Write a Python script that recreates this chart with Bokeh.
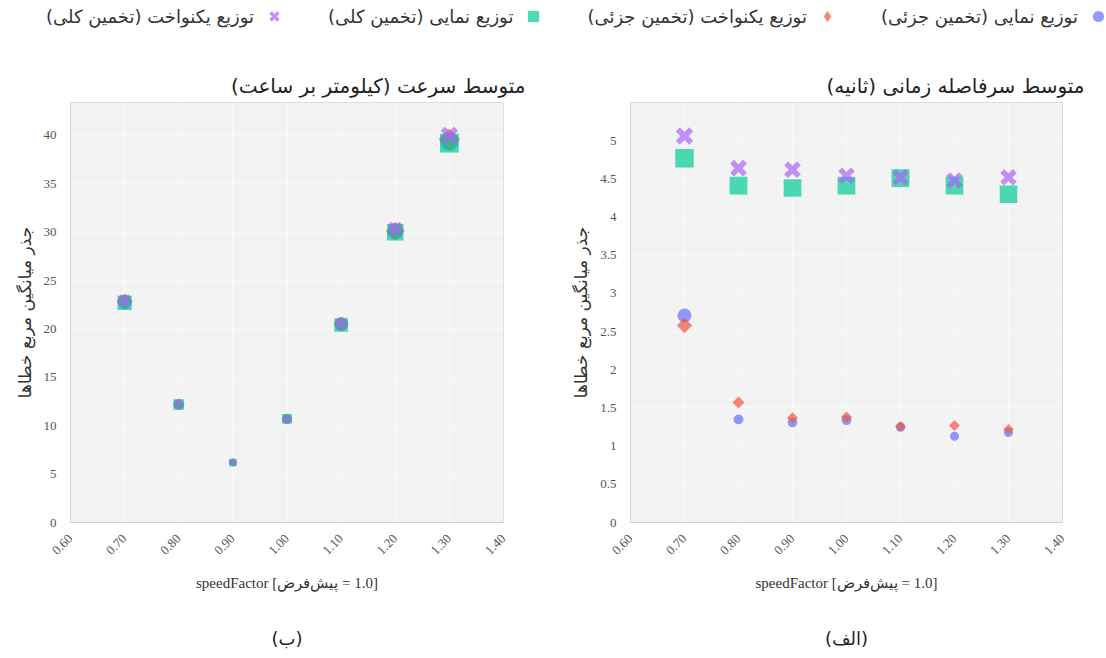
import math
from bokeh.plotting import figure
from bokeh.layouts import column, row
from bokeh.models import (ColumnDataSource, Range1d, FixedTicker, NumeralTickFormatter,
                          Title, Legend, LegendItem)
from bokeh.embed import file_html
from bokeh.resources import INLINE

# ---------------- data ----------------
speed_factor = [0.7, 0.8, 0.9, 1.0, 1.1, 1.2, 1.3]
x_ticks = [0.6, 0.7, 0.8, 0.9, 1.0, 1.1, 1.2, 1.3, 1.4]
headway_y_ticks = [0, 0.5, 1, 1.5, 2, 2.5, 3, 3.5, 4, 4.5, 5]
speed_y_ticks = [0, 5, 10, 15, 20, 25, 30, 35, 40]

series_labels = [
    "توزیع نمایی (تخمین جزئی)",
    "توزیع یکنواخت (تخمین جزئی)",
    "توزیع نمایی (تخمین کلی)",
    "توزیع یکنواخت (تخمین کلی)",
]

# (الف) average headway RMSE
headway_exp_partial = [2.71, 1.35, 1.31, 1.34, 1.25, 1.13, 1.18]
headway_uni_partial = [2.58, 1.57, 1.37, 1.38, 1.26, 1.27, 1.22]
headway_exp_total = [4.77, 4.41, 4.38, 4.41, 4.51, 4.41, 4.30]
headway_uni_total = [5.06, 4.64, 4.62, 4.54, 4.52, 4.48, 4.52]

# (ب) average speed RMSE
speed_exp_partial = [22.8, 12.2, 6.2, 10.7, 20.5, 30.1, 39.4]
speed_uni_partial = [22.8, 12.2, 6.2, 10.7, 20.5, 30.1, 39.6]
speed_exp_total = [22.7, 12.2, 6.2, 10.7, 20.4, 30.0, 39.2]
speed_uni_total = [22.9, 12.2, 6.2, 10.7, 20.5, 30.3, 40.0]

# ---------------- styles ----------------
COLORS = ["#636EFA", "#EF553B", "#00CC96", "#AB63FA"]
MARKERS = ["circle", "diamond", "square", "x"]
MAX_SIZE = 19
ALPHA = 0.7
PERSIAN_FONT = "DejaVu Sans"
NUM_FONT = "Liberation Serif"


def draw_marker(p, src, k, size, lw, legend_glyph=False):
    m = MARKERS[k]
    if m == "x":
        return p.scatter("x", "y", source=src, marker="x", size=size, line_width=lw,
                         line_color=COLORS[k], line_alpha=ALPHA)
    if m == "diamond":
        if legend_glyph:
            return p.scatter("x", "y", source=src, marker="diamond", size=size,
                             fill_color=COLORS[k], fill_alpha=ALPHA, line_color=None)
        return p.scatter("x", "y", source=src, marker="square", angle=math.pi / 4,
                         size=size, fill_color=COLORS[k], fill_alpha=ALPHA, line_color=None)
    return p.scatter("x", "y", source=src, marker=m, size=size,
                     fill_color=COLORS[k], fill_alpha=ALPHA, line_color=None)


def add_series(p, ys, k, vmax):
    sizes = [MAX_SIZE * math.sqrt(v / vmax) for v in ys]
    if MARKERS[k] == "diamond":
        sizes = [s * 0.8 for s in sizes]
    lws = [s * 0.3 for s in sizes]
    src = ColumnDataSource(dict(x=speed_factor, y=ys, s=sizes, lw=lws))
    draw_marker(p, src, k, "s", "lw")


def make_panel(title, caption, series, y_end, y_ticks, frame_w, b_left, b_right):
    p = figure(frame_width=frame_w, frame_height=420,
               x_range=Range1d(0.6, 1.4), y_range=Range1d(0, y_end),
               output_backend="svg", toolbar_location=None,
               min_border_left=b_left, min_border_right=b_right,
               min_border_top=70, min_border_bottom=134,
               background_fill_color="#f3f3f3", border_fill_color="white",
               outline_line_color="#dcdcdc", title=title)
    p.title.align = "right"
    p.title.offset = -22
    p.title.text_font = PERSIAN_FONT
    p.title.text_font_size = "20px"
    p.title.text_font_style = "normal"
    p.title.text_color = "#222222"

    vmax = max(max(s) for s in series)
    for k, ys in enumerate(series):
        add_series(p, ys, k, vmax)

    p.xaxis.ticker = FixedTicker(ticks=x_ticks)
    p.xaxis.formatter = NumeralTickFormatter(format="0.00")
    p.xaxis.major_label_orientation = math.pi / 4
    p.xaxis.axis_label = "speedFactor [پیش‌فرض\u200e = 1.0]"
    p.yaxis.ticker = FixedTicker(ticks=y_ticks)
    p.yaxis.formatter = NumeralTickFormatter(format="0.[0]")
    p.yaxis.axis_label = "جذر میانگین مربع خطاها"

    for ax in (p.xaxis, p.yaxis):
        ax.axis_line_color = "#cfcfcf"
        ax.major_tick_line_color = None
        ax.minor_tick_line_color = None
        ax.major_label_text_font = NUM_FONT
        ax.major_label_text_font_size = "13px"
        ax.major_label_text_color = "#555555"
        ax.major_label_standoff = 8
        ax.axis_label_text_font_style = "normal"
        ax.axis_label_text_color = "#333333"
    p.xaxis.axis_label_text_font = NUM_FONT
    p.xaxis.axis_label_text_font_size = "15px"
    p.xaxis.axis_label_standoff = 14
    p.yaxis.axis_label_text_font = PERSIAN_FONT
    p.yaxis.axis_label_text_font_size = "17px"
    p.yaxis.axis_label_standoff = 6

    p.xgrid.grid_line_color = "white"
    p.ygrid.grid_line_color = "white"
    p.xgrid.grid_line_alpha = 0.5
    p.ygrid.grid_line_alpha = 0.5

    cap = Title(text=caption, align="center", text_font=PERSIAN_FONT,
                text_font_size="18px", text_font_style="normal",
                text_color="#222222", standoff=62)
    p.add_layout(cap, "below")
    return p


left = make_panel("متوسط سرعت (کیلومتر بر ساعت)", "(ب)",
                  [speed_exp_partial, speed_uni_partial, speed_exp_total, speed_uni_total],
                  43.4, speed_y_ticks, 433, 70, 40)
right = make_panel("متوسط سرفاصله زمانی (ثانیه)", "(الف)",
                   [headway_exp_partial, headway_uni_partial, headway_exp_total, headway_uni_total],
                   5.5, headway_y_ticks, 432, 87, 30)

# ---------------- legend strip (right-to-left: label, then its marker) ----------------
leg = figure(width=1106, height=32, x_range=Range1d(0, 1), y_range=Range1d(0, 1),
             output_backend="svg", toolbar_location=None, min_border=0,
             outline_line_color=None, x_axis_type=None, y_axis_type=None)
glyphs = {}
for k in range(4):
    src = ColumnDataSource(dict(x=[float("nan")], y=[float("nan")]))
    size = {"circle": 13, "diamond": 15, "square": 13, "x": 13}[MARKERS[k]]
    glyphs[k] = draw_marker(leg, src, k, size, 3.5, legend_glyph=True)
blank = leg.scatter("x", "y", source=ColumnDataSource(dict(x=[float("nan")], y=[float("nan")])),
                    marker="circle", size=0, fill_color=None, line_color=None)

order = [3, 2, 1, 0]  # left to right on the page
items = []
prev = blank
for k in order:
    items.append(LegendItem(label=series_labels[k], renderers=[prev]))
    prev = glyphs[k]
items.append(LegendItem(label=" ", renderers=[prev]))

legend = Legend(items=items, orientation="horizontal", location=(-22, 2),
                glyph_width=28, glyph_height=28, label_standoff=40, label_width=0,
                label_height=20, spacing=6, padding=0, margin=0,
                label_text_font=PERSIAN_FONT, label_text_font_size="18px",
                label_text_color="#333333",
                background_fill_alpha=0, border_line_color=None)
leg.add_layout(legend, "center")

layout = column(leg, row(left, right))
open("out.html", "w").write(file_html(layout, INLINE))
